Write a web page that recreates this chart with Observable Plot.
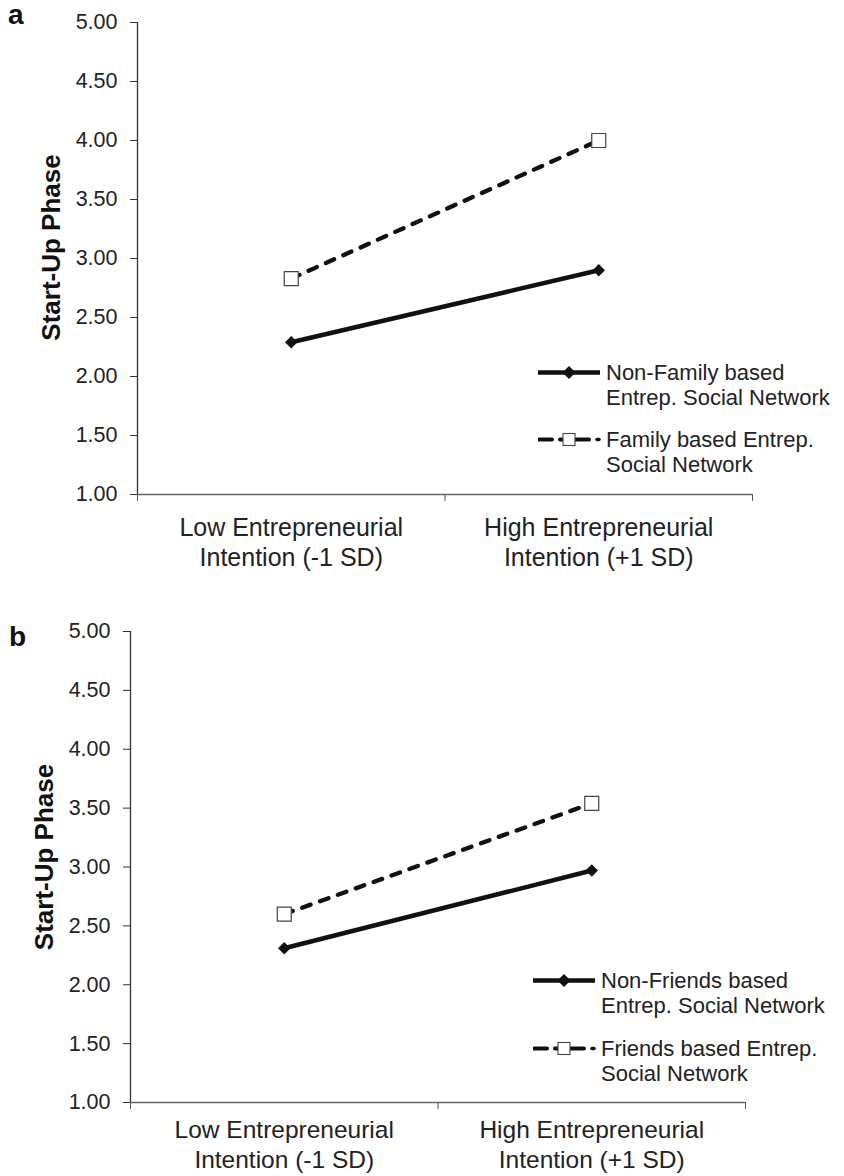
<!DOCTYPE html>
<html><head><meta charset="utf-8">
<script src="https://cdn.jsdelivr.net/npm/d3@7"></script>
<script src="https://cdn.jsdelivr.net/npm/@observablehq/plot@0.6"></script>
<style>
body{margin:0;background:#fff;}
#wrap{position:relative;width:844px;height:1176px;overflow:hidden;}
.panel{position:absolute;left:0;width:844px;}
.letter{position:absolute;font:bold 28px "Liberation Sans",Arial,sans-serif;line-height:28px;color:#111;}
.legitem{position:absolute;}
.legitem svg{position:absolute;left:0;top:0;}
.legtext{position:absolute;top:0;white-space:nowrap;font:22px "Liberation Sans",Arial,sans-serif;line-height:25px;color:#222;}
</style></head><body><div id="wrap"></div>
<script>
// ---- data ----
const categories = ["Low Entrepreneurial\nIntention (-1 SD)", "High Entrepreneurial\nIntention (+1 SD)"];
const yTicks = [1.0, 1.5, 2.0, 2.5, 3.0, 3.5, 4.0, 4.5, 5.0];
const yLabel = "Start-Up Phase";
const panelLetters = ["a", "b"];

const seriesA = ["Non-Family based Entrep. Social Network", "Family based Entrep. Social Network"];
const legendLinesA = [["Non-Family based", "Entrep. Social Network"], ["Family based Entrep.", "Social Network"]];
const nonFamily = [2.29, 2.90];
const family = [2.83, 4.00];

const seriesB = ["Non-Friends based Entrep. Social Network", "Friends based Entrep. Social Network"];
const legendLinesB = [["Non-Friends based", "Entrep. Social Network"], ["Friends based Entrep.", "Social Network"]];
const nonFriends = [2.31, 2.97];
const friends = [2.60, 3.54];

// ---- chart ----
function makePanel(solidVals, dashedVals, series, m) {
  const solid = solidVals.map((v, i) => ({i, v, s: series[0]}));
  const dashed = dashedVals.map((v, i) => ({i, v, s: series[1]}));
  const n = categories.length;
  return Plot.plot({
    width: 844, height: 588,
    marginLeft: m.left, marginRight: m.right, marginTop: m.top, marginBottom: m.bottom,
    style: {fontFamily: "'Liberation Sans', Arial, sans-serif", color: "#222", background: "#fff", overflow: "visible"},
    x: {type: "linear", domain: [-0.5, n - 0.5]},
    y: {domain: [yTicks[0], yTicks[yTicks.length - 1]]},
    marks: [
      Plot.axisY({ticks: yTicks, tickFormat: d3.format(".2f"), tickSize: 7, tickPadding: 13, fontSize: 21.5, label: null, stroke: "#333"}),
      Plot.axisX({ticks: d3.range(n + 1).map(k => k - 0.5), tickFormat: () => "", tickSize: 7, label: null, stroke: "#555"}),
      Plot.axisX({ticks: d3.range(n), tickFormat: i => categories[i], tickSize: 0, tickPadding: m.labelPad, fontSize: m.labelSize, lineHeight: 1.2, label: null}),
      Plot.ruleX([-0.5], {stroke: "#333", strokeWidth: 1.3}),
      Plot.ruleY([yTicks[0]], {stroke: "#666", strokeWidth: 1.6}),
      Plot.line(solid, {x: "i", y: "v", stroke: "#111", strokeWidth: 4.5}),
      Plot.line(dashed, {x: "i", y: "v", stroke: "#111", strokeWidth: 4.3, strokeDasharray: "9,10"}),
      Plot.dot(solid, {x: "i", y: "v", symbol: "diamond2", r: 5.6, fill: "#111", stroke: "none"}),
      Plot.dot(dashed, {x: "i", y: "v", symbol: "square", r: 7.9, fill: "#fff", stroke: "#444", strokeWidth: 1.2}),
      Plot.text([yLabel], {text: d => d, frameAnchor: "left", textAnchor: "middle", rotate: -90, dx: -86, dy: m.titleDy, fontSize: 26, fontWeight: "bold", fill: "#111"})
    ]
  });
}

const wrap = document.getElementById("wrap");

function addPanel(top, svg) {
  const d = document.createElement("div");
  d.className = "panel"; d.style.top = top + "px";
  d.appendChild(svg); wrap.appendChild(d);
}
function addLetter(text, left, top) {
  const d = document.createElement("div");
  d.className = "letter"; d.textContent = text;
  d.style.left = left + "px"; d.style.top = top + "px";
  wrap.appendChild(d);
}
function addLegendItem(kind, lines, left, centerY) {
  const item = document.createElement("div");
  item.className = "legitem";
  item.style.left = left + "px"; item.style.top = (centerY - 12.5) + "px";
  const ns = "http://www.w3.org/2000/svg";
  const svg = document.createElementNS(ns, "svg");
  svg.setAttribute("width", 64); svg.setAttribute("height", 25);
  if (kind === "solid") {
    svg.innerHTML = '<line x1="0" x2="62" y1="12.5" y2="12.5" stroke="#111" stroke-width="4.5"/>' +
      '<path d="M31,6 L37.5,12.5 L31,19 L24.5,12.5 Z" fill="#111"/>';
  } else {
    svg.innerHTML = '<line x1="1" x2="14" y1="12.5" y2="12.5" stroke="#111" stroke-width="4" stroke-linecap="round"/>' +
      '<line x1="22" x2="25" y1="12.5" y2="12.5" stroke="#111" stroke-width="4" stroke-linecap="round"/>' +
      '<line x1="37" x2="51" y1="12.5" y2="12.5" stroke="#111" stroke-width="4" stroke-linecap="round"/>' +
      '<line x1="59" x2="61" y1="12.5" y2="12.5" stroke="#111" stroke-width="3.5" stroke-linecap="round"/>' +
      '<rect x="25" y="6.5" width="12" height="12" fill="#fff" stroke="#444" stroke-width="1.1"/>';
  }
  item.appendChild(svg);
  const t = document.createElement("div");
  t.className = "legtext"; t.style.left = "68px";
  t.innerHTML = lines.map(s => s.replace(/&/g, "&amp;")).join("<br>");
  item.appendChild(t);
  wrap.appendChild(item);
}

addPanel(0, makePanel(nonFamily, family, seriesA, {left: 137, right: 92, top: 22, bottom: 94, labelPad: 20, labelSize: 25, titleDy: -11}));
addPanel(588, makePanel(nonFriends, friends, seriesB, {left: 130, right: 99, top: 43, bottom: 74, labelPad: 15, labelSize: 24.5, titleDy: -10}));
addLetter(panelLetters[0], 8, 1);
addLetter(panelLetters[1], 9, 623);
addLegendItem("solid", legendLinesA[0], 538, 372);
addLegendItem("dashed", legendLinesA[1], 538, 439);
addLegendItem("solid", legendLinesB[0], 533, 980);
addLegendItem("dashed", legendLinesB[1], 533, 1048);
</script></body></html>
